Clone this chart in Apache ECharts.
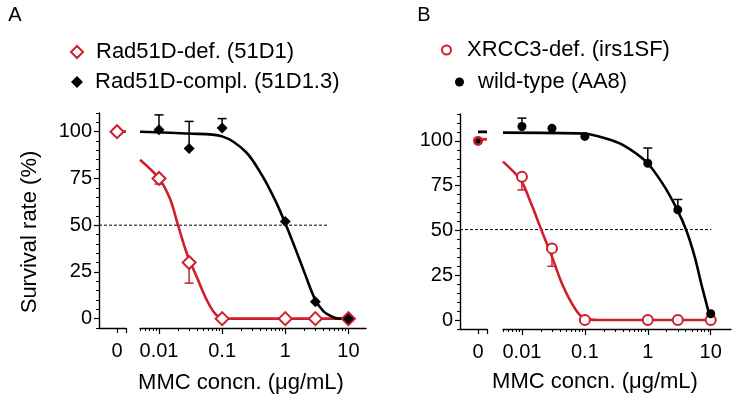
<!DOCTYPE html>
<html>
<head>
<meta charset="utf-8">
<script src="https://cdn.jsdelivr.net/npm/echarts@6/dist/echarts.min.js"></script>
<style>
html, body { margin: 0; padding: 0; background: #fff; }
#chart { width: 741px; height: 406px; }
</style>
</head>
<body>
<div id="chart"></div>
<script>
var RED = '#d01f2c';
var FONT = 'Liberation Sans';

// tick labels
var yLabels = [0, 25, 50, 75, 100];
var zeroLabels = [0];
var logLabels = [0.01, 0.1, 1, 10];
var logMinor = [0.005, 0.006, 0.007, 0.008, 0.009,
    0.02, 0.03, 0.04, 0.05, 0.06, 0.07, 0.08, 0.09,
    0.2, 0.3, 0.4, 0.5, 0.6, 0.7, 0.8, 0.9,
    2, 3, 4, 5, 6, 7, 8, 9];

// panel A - Rad51D
var aRedName = 'Rad51D-def. (51D1)';
var aBlackName = 'Rad51D-compl. (51D1.3)';
var aRedZero = [[0, 100]];
var aBlackZero = [[0, 100]];
var aRedPts = [[0.01, 75], [0.03, 30], [0.1, 0], [1, 0], [3, 0], [10, 0]];
var aBlackPts = [[0.01, 101], [0.03, 91], [0.1, 102], [1, 52], [3, 9], [10, 0]];
var aRedErr = [[0.01, 75, 72], [0.03, 30, 19]];
var aBlackErr = [[0.01, 101, 109], [0.03, 91, 105.5], [0.1, 102, 107]];
var aRedFitZero = [[0, 100], [1, 100]];
var aBlackFitZero = [[0, 100], [1, 100]];
var aRedFit = [[0.005, 85], [0.01, 75], [0.015, 64], [0.02, 50], [0.0275, 35], [0.04, 22],
    [0.057, 10], [0.081, 2], [0.13, 0], [1, 0], [10, 0]];
var aBlackFit = [[0.005, 100], [0.03, 99], [0.1, 97.5], [0.24, 89], [0.44, 76], [0.7, 63],
    [1, 51], [1.5, 36], [2.1, 23], [2.9, 11], [4, 4], [5.5, 1], [7, 0], [10, 0]];
// 50 % line: [x from, x to, y], x in units of the "0" axis segment
var aHalf = [[-2, 23.4, 50]];

// panel B - XRCC3
var bRedName = 'XRCC3-def. (irs1SF)';
var bBlackName = 'wild-type (AA8)';
var bRedZero = [[0, 100]];
var bBlackZero = [[0, 100]];
var bRedPts = [[0.01, 80], [0.03, 40], [0.1, 0], [1, 0], [3, 0], [10, 0]];
var bBlackPts = [[0.01, 108], [0.03, 107], [0.1, 102.5], [1, 87.5], [3, 61.5], [10, 3.5]];
var bRedErr = [[0.01, 80, 72.6], [0.03, 40, 30]];
var bBlackErr = [[0.01, 108, 112.7], [0.1, 102.5, 104], [1, 87.5, 96], [3, 61.5, 67.3]];
var bRedFitZero = [[0, 100.5], [1, 101]];
var bBlackFitZero = [[0, 105], [1, 105]];
var bRedFit = [[0.005, 88.4], [0.0096, 78], [0.014, 65], [0.0205, 50], [0.03, 35.4], [0.043, 20.5],
    [0.062, 9.3], [0.09, 1.8], [0.17, 0], [1, 0], [10, 0]];
var bBlackFit = [[0.005, 104.6], [0.1, 104], [0.21, 101.5], [0.4, 97.8], [0.94, 88.4], [1.7, 76.4],
    [2.8, 63], [4.1, 50], [5.6, 35], [7.1, 20], [9.5, 3]];
var bHalf = [[-2, 25.9, 50.5]];

var chart = echarts.init(document.getElementById('chart'));

function zeroX(grid) {
    return {
        type: 'value', gridIndex: grid, position: 'bottom', min: -2, max: 1,
        axisLine: { show: true, onZero: false, lineStyle: { color: '#000', width: 1.4 } },
        axisTick: { show: true, length: 5, customValues: [0, 1], lineStyle: { color: '#000', width: 1.2 } },
        axisLabel: { customValues: zeroLabels, margin: 13, color: '#000', fontFamily: FONT, fontSize: 20 },
        splitLine: { show: false }
    };
}
function logX(grid, max) {
    return {
        type: 'log', logBase: 10, gridIndex: grid, position: 'bottom', min: 0.005, max: max,
        axisLine: { show: true, onZero: false, lineStyle: { color: '#000', width: 1.4 } },
        axisTick: { show: true, length: 6, customValues: logLabels, lineStyle: { color: '#000', width: 1.2 } },
        axisLabel: { customValues: logLabels, margin: 13, color: '#000', fontFamily: FONT, fontSize: 20 },
        splitLine: { show: false }, minorTick: { show: false }
    };
}
function logMinorX(grid, max) {
    return {
        type: 'log', logBase: 10, gridIndex: grid, position: 'bottom', min: 0.005, max: max,
        axisLine: { show: false, onZero: false },
        axisTick: { show: true, length: 3, customValues: logMinor, lineStyle: { color: '#000', width: 1 } },
        axisLabel: { show: false },
        splitLine: { show: false }
    };
}
function mainY(grid, max) {
    return {
        type: 'value', gridIndex: grid, position: 'left', min: -5, max: max, interval: 5,
        axisLine: { show: true, onZero: false, lineStyle: { color: '#000', width: 1.4 } },
        axisTick: { show: true, length: 3, lineStyle: { color: '#000', width: 1 } },
        axisLabel: { customValues: yLabels, margin: 7, color: '#000', fontFamily: FONT, fontSize: 20 },
        splitLine: { show: false }
    };
}
function majorY(grid, max) {
    return {
        type: 'value', gridIndex: grid, position: 'left', min: -5, max: max,
        axisLine: { show: false, onZero: false },
        axisTick: { show: true, length: 5, customValues: yLabels, lineStyle: { color: '#000', width: 1.2 } },
        axisLabel: { show: false },
        splitLine: { show: false }
    };
}
function hiddenY(grid, max) {
    return { type: 'value', gridIndex: grid, min: -5, max: max, show: false, axisLine: { onZero: false } };
}

function points(name, xi, yi, data, symbol, size, fill, border, z) {
    return {
        name: name, type: 'scatter', xAxisIndex: xi, yAxisIndex: yi, data: data,
        symbol: symbol, symbolSize: size, z: z, silent: true,
        itemStyle: { color: fill, borderColor: border, borderWidth: fill === '#fff' ? 2 : 0, opacity: 1 }
    };
}
function curve(xi, yi, data, color, z) {
    return {
        type: 'line', xAxisIndex: xi, yAxisIndex: yi, data: data, smooth: 0.3,
        symbol: 'none', z: z, silent: true,
        lineStyle: { color: color, width: 2.6 }
    };
}
// horizontal dashed reference line, may run past the small grid it belongs to
function dashed(xi, yi, data) {
    return {
        type: 'custom', xAxisIndex: xi, yAxisIndex: yi, data: data, z: 1, silent: true, clip: false,
        encode: { x: [0, 1], y: 2 },
        renderItem: function (params, api) {
            var a = api.coord([api.value(0), api.value(2)]);
            var b = api.coord([api.value(1), api.value(2)]);
            return {
                type: 'line', shape: { x1: a[0], y1: a[1], x2: b[0], y2: b[1] },
                style: { stroke: '#000', lineWidth: 1, lineDash: [3, 2] }
            };
        }
    };
}
function errBars(xi, yi, data, color) {
    return {
        type: 'custom', xAxisIndex: xi, yAxisIndex: yi, data: data, z: 3, silent: true,
        encode: { x: 0, y: [1, 2] },
        renderItem: function (params, api) {
            var p0 = api.coord([api.value(0), api.value(1)]);
            var p1 = api.coord([api.value(0), api.value(2)]);
            var st = { stroke: color, lineWidth: 1.5 };
            return {
                type: 'group', children: [
                    { type: 'line', shape: { x1: p0[0], y1: p0[1], x2: p1[0], y2: p1[1] }, style: st },
                    { type: 'line', shape: { x1: p1[0] - 4.5, y1: p1[1], x2: p1[0] + 4.5, y2: p1[1] }, style: st }
                ]
            };
        }
    };
}
function legendItem(name, left, top, size, gap) {
    return {
        data: [name], left: left, top: top, itemWidth: size, itemHeight: size,
        selectedMode: false, padding: 0,
        textStyle: { color: '#000', fontFamily: FONT, fontSize: 22, lineHeight: 22, padding: [0, 0, 0, gap] }
    };
}

var option = {
    animation: false,
    backgroundColor: '#fff',
    grid: [
        { left: 99, width: 27, top: 113, height: 215, outerBoundsMode: 'none' },
        { left: 140, width: 226, top: 113, height: 215, outerBoundsMode: 'none' },
        { left: 460, width: 27, top: 114, height: 215, outerBoundsMode: 'none' },
        { left: 503, width: 228, top: 114, height: 215, outerBoundsMode: 'none' }
    ],
    xAxis: [
        zeroX(0), logX(1, 19), logMinorX(1, 19),
        zeroX(2), logX(3, 21), logMinorX(3, 21)
    ],
    yAxis: [
        mainY(0, 110), majorY(0, 110), hiddenY(1, 110),
        mainY(2, 115), majorY(2, 115), hiddenY(3, 115)
    ],
    legend: [
        legendItem(aRedName, 70, 41, 12, 8),
        legendItem(aBlackName, 71, 71, 12, 7),
        legendItem(bRedName, 441, 39, 9, 11),
        legendItem(bBlackName, 455, 71, 9, 9)
    ],
    graphic: [
        { type: 'text', x: 15, y: 15, style: { text: 'A', fill: '#000', font: '20px "Liberation Sans"', textAlign: 'center', textVerticalAlign: 'middle' } },
        { type: 'text', x: 424, y: 15, style: { text: 'B', fill: '#000', font: '20px "Liberation Sans"', textAlign: 'center', textVerticalAlign: 'middle' } },
        { type: 'text', x: 30, y: 232, rotation: Math.PI / 2, style: { text: 'Survival rate (%)', fill: '#000', font: '22px "Liberation Sans"', textAlign: 'center', textVerticalAlign: 'middle' } },
        { type: 'text', x: 241, y: 383, style: { text: 'MMC concn. (\u03bcg/mL)', fill: '#000', font: '22px "Liberation Sans"', textAlign: 'center', textVerticalAlign: 'middle' } },
        { type: 'text', x: 595, y: 382, style: { text: 'MMC concn. (\u03bcg/mL)', fill: '#000', font: '22px "Liberation Sans"', textAlign: 'center', textVerticalAlign: 'middle' } }
    ],
    series: [
        // panel A
        points(aRedName, 1, 2, aRedPts, 'diamond', 13, '#fff', RED, 4),
        points(aBlackName, 1, 2, aBlackPts, 'diamond', 11, '#000', '#000', 5),
        points('', 0, 0, aBlackZero, 'diamond', 11, '#000', '#000', 4),
        points('', 0, 0, aRedZero, 'diamond', 13, '#fff', RED, 5),
        curve(1, 2, aRedFit, RED, 2),
        curve(1, 2, aBlackFit, '#000', 2),
        curve(0, 0, aBlackFitZero, '#000', 2),
        curve(0, 0, aRedFitZero, RED, 3),
        errBars(1, 2, aRedErr, RED),
        errBars(1, 2, aBlackErr, '#000'),
        dashed(0, 0, aHalf),
        // panel B
        points(bRedName, 4, 5, bRedPts, 'circle', 10, '#fff', RED, 4),
        points(bBlackName, 4, 5, bBlackPts, 'circle', 9, '#000', '#000', 5),
        points('', 3, 3, bRedZero, 'circle', 10, RED, RED, 4),
        points('', 3, 3, bBlackZero, 'circle', 5, '#000', '#000', 5),
        curve(4, 5, bRedFit, RED, 2),
        curve(4, 5, bBlackFit, '#000', 2),
        curve(3, 3, bBlackFitZero, '#000', 2),
        curve(3, 3, bRedFitZero, RED, 3),
        errBars(4, 5, bRedErr, RED),
        errBars(4, 5, bBlackErr, '#000'),
        dashed(3, 3, bHalf)
    ]
};
chart.setOption(option);
</script>
</body>
</html>
